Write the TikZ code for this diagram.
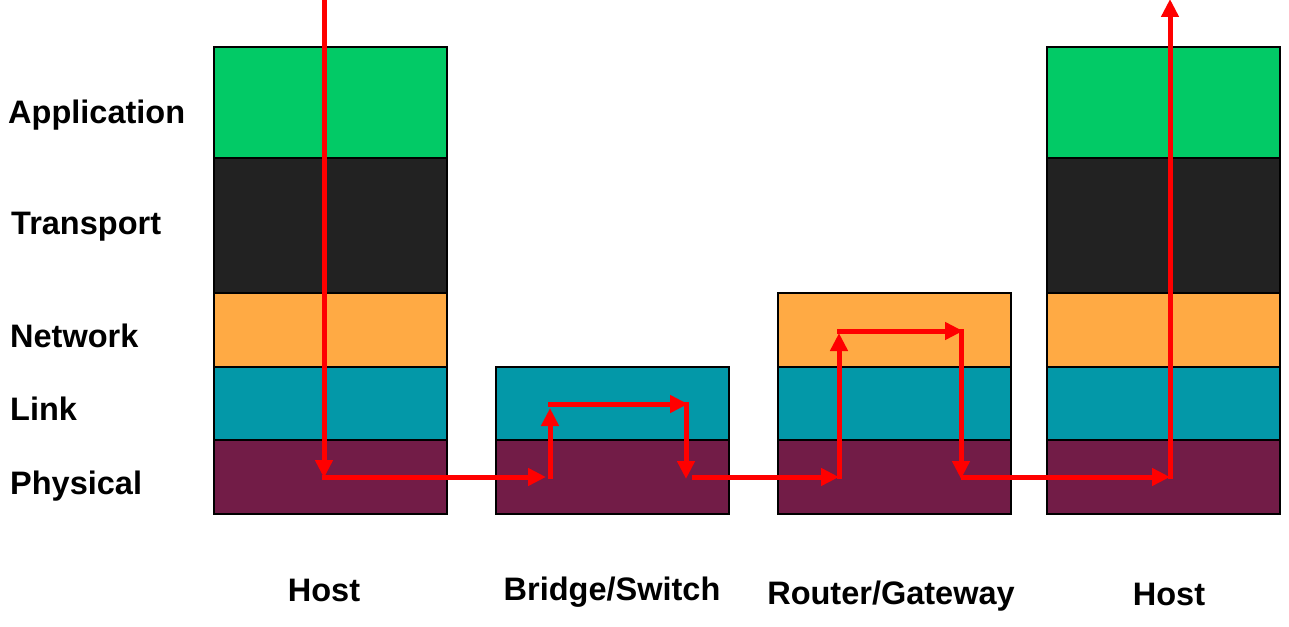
\documentclass[tikz,border=0pt]{standalone}
\usepackage{fontspec}
\setmainfont{Liberation Sans}
\usetikzlibrary{arrows.meta}
\definecolor{appc}{HTML}{02CA66}
\definecolor{trac}{HTML}{222222}
\definecolor{netc}{HTML}{FFAA44}
\definecolor{linc}{HTML}{0398A8}
\definecolor{phyc}{HTML}{721C47}
\definecolor{arrc}{HTML}{FF0000}
\tikzset{
  layer/.style={draw=black, line width=1.5pt, inner sep=0pt, outer sep=0pt, anchor=north west, minimum width=233pt},
  lbl/.style={font=\fontsize{32.5}{36}\selectfont\bfseries, inner sep=0pt},
  flow/.style={draw=arrc, line width=5pt, -{Triangle[length=18pt,width=17pt]}},
}
\begin{document}
\begin{tikzpicture}[x=1pt,y=-1pt]
\useasboundingbox (0,0) rectangle (1289,626);
% left host
\node[layer, fill=appc, minimum height=111pt] (h1a) at (214,47) {};
\node[layer, fill=trac, minimum height=135pt] (h1t) at (214,158) {};
\node[layer, fill=netc, minimum height=74pt] (h1n) at (214,293) {};
\node[layer, fill=linc, minimum height=73pt] (h1l) at (214,367) {};
\node[layer, fill=phyc, minimum height=74pt] (h1p) at (214,440) {};
% bridge
\node[layer, fill=linc, minimum height=73pt] (bl) at (496,367) {};
\node[layer, fill=phyc, minimum height=74pt] (bp) at (496,440) {};
% router
\node[layer, fill=netc, minimum height=74pt] (rn) at (778,293) {};
\node[layer, fill=linc, minimum height=73pt] (rl) at (778,367) {};
\node[layer, fill=phyc, minimum height=74pt] (rp) at (778,440) {};
% right host
\node[layer, fill=appc, minimum height=111pt] (h2a) at (1047,47) {};
\node[layer, fill=trac, minimum height=135pt] (h2t) at (1047,158) {};
\node[layer, fill=netc, minimum height=74pt] (h2n) at (1047,293) {};
\node[layer, fill=linc, minimum height=73pt] (h2l) at (1047,367) {};
\node[layer, fill=phyc, minimum height=74pt] (h2p) at (1047,440) {};
% layer labels
\node[lbl, anchor=west] (lapp) at (8,115) {Application};
\node[lbl, anchor=west] (ltra) at (11,227) {Transport};
\node[lbl, anchor=west] (lnet) at (10,336) {Network};
\node[lbl, anchor=west] (llin) at (10,409) {Link};
\node[lbl, anchor=west] (lphy) at (10,486) {Physical};
% device labels
\node[lbl] (dh1) at (324,590) {Host};
\node[lbl] (dbr) at (612,592) {Bridge/Switch};
\node[lbl] (dro) at (891,596) {Router/Gateway};
\node[lbl] (dh2) at (1169,594) {Host};
% path coordinates
\coordinate (p0) at (324,0);
\coordinate (p1) at (324,478);
\coordinate (p2) at (546,477);
\coordinate (q0) at (550,479);
\coordinate (q1) at (550,408);
\coordinate (q2) at (688,404);
\coordinate (q3) at (686,402);
\coordinate (q4) at (686,479);
\coordinate (r0) at (692,477);
\coordinate (r1) at (839,477);
\coordinate (s0) at (839,479);
\coordinate (s1) at (839,333);
\coordinate (s2) at (963,331);
\coordinate (s3) at (961,329);
\coordinate (s4) at (961,479);
\coordinate (t0) at (961,477);
\coordinate (t1) at (1170,477);
\coordinate (u0) at (1170,479);
\coordinate (u1) at (1170,-1);
\coordinate (p1s) at (322,477);
\coordinate (q1s) at (548,404);
\coordinate (s1s) at (837,331);
% arrows
\draw[flow] (p0) -- (p1);
\draw[flow] (p1s) -- (p2);
\draw[flow] (q0) -- (q1);
\draw[flow] (q1s) -- (q2);
\draw[flow] (q3) -- (q4);
\draw[flow] (r0) -- (r1);
\draw[flow] (s0) -- (s1);
\draw[flow] (s1s) -- (s2);
\draw[flow] (s3) -- (s4);
\draw[flow] (t0) -- (t1);
\draw[flow] (u0) -- (u1);
\end{tikzpicture}
\end{document}
